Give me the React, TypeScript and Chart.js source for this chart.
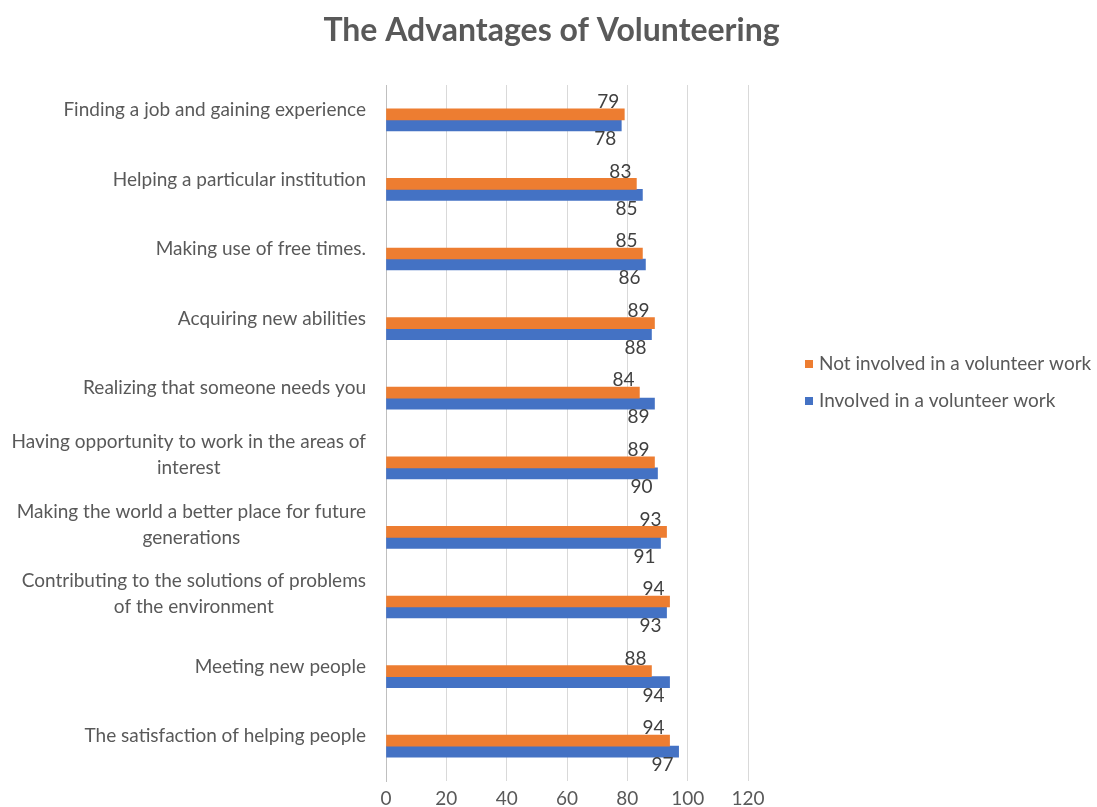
import React, { useEffect, useRef } from "react";
import { Chart, registerables } from "chart.js";

Chart.register(...registerables);

const chartTitle = "The Advantages of Volunteering";
const categories: string[][] = [
  ["Finding a job and gaining experience"],
  ["Helping a particular institution"],
  ["Making use of free times."],
  ["Acquiring new abilities"],
  ["Realizing that someone needs you"],
  ["Having opportunity to work in the areas of", "interest"],
  ["Making the world a better place for future", "generations"],
  ["Contributing to the solutions of problems", "of the environment"],
  ["Meeting new people"],
  ["The satisfaction of helping people"],
];
const seriesNames = ["Not involved in a volunteer work", "Involved in a volunteer work"];
const notInvolved = [79, 83, 85, 89, 84, 89, 93, 94, 88, 94];
const involved = [78, 85, 86, 88, 89, 90, 91, 93, 94, 97];
const xMin = 0;
const xMax = 120;
const xStep = 20;

const FONT = "Lato, 'Open Sans', sans-serif";
const TEXT = "#595959";
const ORANGE = "#ED7D31";
const BLUE = "#4472C4";

export default function App() {
  const ref = useRef<HTMLCanvasElement | null>(null);
  useEffect(() => {
    if (!ref.current) return;
    const titlePlugin = {
      id: "centerTitle",
      afterDraw(chart: any) {
        const ctx = chart.ctx;
        ctx.save();
        ctx.font = `bold 32px ${FONT}`;
        ctx.fillStyle = TEXT;
        ctx.textAlign = "center";
        ctx.textBaseline = "middle";
        ctx.fillText(chartTitle, chart.width / 2 + 3, 31);
        ctx.restore();
      },
    };
    const yLabelPlugin = {
      id: "yLabels",
      afterDraw(chart: any) {
        const ctx = chart.ctx;
        const ys = chart.scales.y;
        ctx.save();
        ctx.font = `19px ${FONT}`;
        ctx.fillStyle = TEXT;
        ctx.textBaseline = "middle";
        const right = chart.chartArea.left - 20;
        categories.forEach((lines, i) => {
          const c = ys.getPixelForValue(i);
          if (lines.length === 1) {
            ctx.textAlign = "right";
            ctx.fillText(lines[0], right, c - 10);
          } else {
            const w = Math.max(...lines.map((l) => ctx.measureText(l).width));
            const cx = right - w / 2;
            ctx.textAlign = "center";
            lines.forEach((l, j) => ctx.fillText(l, cx, c - 26 + j * 26));
          }
        });
        ctx.restore();
      },
    };
    const dataLabelPlugin = {
      id: "dataLabels",
      afterDatasetsDraw(chart: any) {
        const ctx = chart.ctx;
        const ys = chart.scales.y;
        ctx.save();
        ctx.font = `19px ${FONT}`;
        ctx.fillStyle = "#404040";
        ctx.textAlign = "center";
        ctx.textBaseline = "middle";
        chart.data.datasets.forEach((ds: any, di: number) => {
          const meta = chart.getDatasetMeta(di);
          meta.data.forEach((el: any, i: number) => {
            const c = ys.getPixelForValue(i);
            const y = di === 0 ? c - 18 : c + 19;
            ctx.fillText(String(ds.data[i]), el.x - 16, y);
          });
        });
        ctx.restore();
      },
    };
    const legendPlugin = {
      id: "customLegend",
      afterDraw(chart: any) {
        const ctx = chart.ctx;
        ctx.save();
        ctx.font = `19px ${FONT}`;
        ctx.textBaseline = "middle";
        ctx.textAlign = "left";
        chart.data.datasets.forEach((ds: any, i: number) => {
          const y = 364 + i * 37;
          ctx.fillStyle = ds.backgroundColor;
          ctx.fillRect(805, y - 4, 8, 8);
          ctx.fillStyle = TEXT;
          ctx.fillText(ds.label, 819, y);
        });
        ctx.restore();
      },
    };
    const chart = new Chart(ref.current, {
      type: "bar",
      data: {
        labels: categories.map((l) => l.join(" ")),
        datasets: [
          { label: seriesNames[0], data: notInvolved, backgroundColor: ORANGE, barThickness: 11 },
          { label: seriesNames[1], data: involved, backgroundColor: BLUE, barThickness: 11 },
        ],
      },
      options: {
        indexAxis: "y",
        animation: false,
        responsive: true,
        maintainAspectRatio: false,
        layout: { padding: { left: 0, right: 349, top: 85, bottom: 0 } },
        plugins: {
          legend: { display: false },
          tooltip: { enabled: false },
          title: { display: false },
        },
        scales: {
          x: {
            min: xMin,
            max: xMax,
            ticks: { stepSize: xStep, color: TEXT, font: { family: FONT, size: 19 }, padding: 6 },
            grid: { color: "#d9d9d9", drawTicks: false },
            border: { display: false },
            afterFit(scale: any) {
              scale.height = 26;
            },
          },
          y: {
            ticks: { display: false },
            grid: { display: false, drawTicks: false },
            border: { display: true, color: "#bfbfbf" },
            afterFit(scale: any) {
              scale.width = 386;
            },
          },
        },
      },
      plugins: [titlePlugin, yLabelPlugin, dataLabelPlugin, legendPlugin],
    } as any);
    return () => chart.destroy();
  }, []);
  return (
    <div style={{ position: "fixed", left: 0, top: 0, width: 1097, height: 807, background: "#fff" }}>
      <canvas ref={ref} />
    </div>
  );
}
